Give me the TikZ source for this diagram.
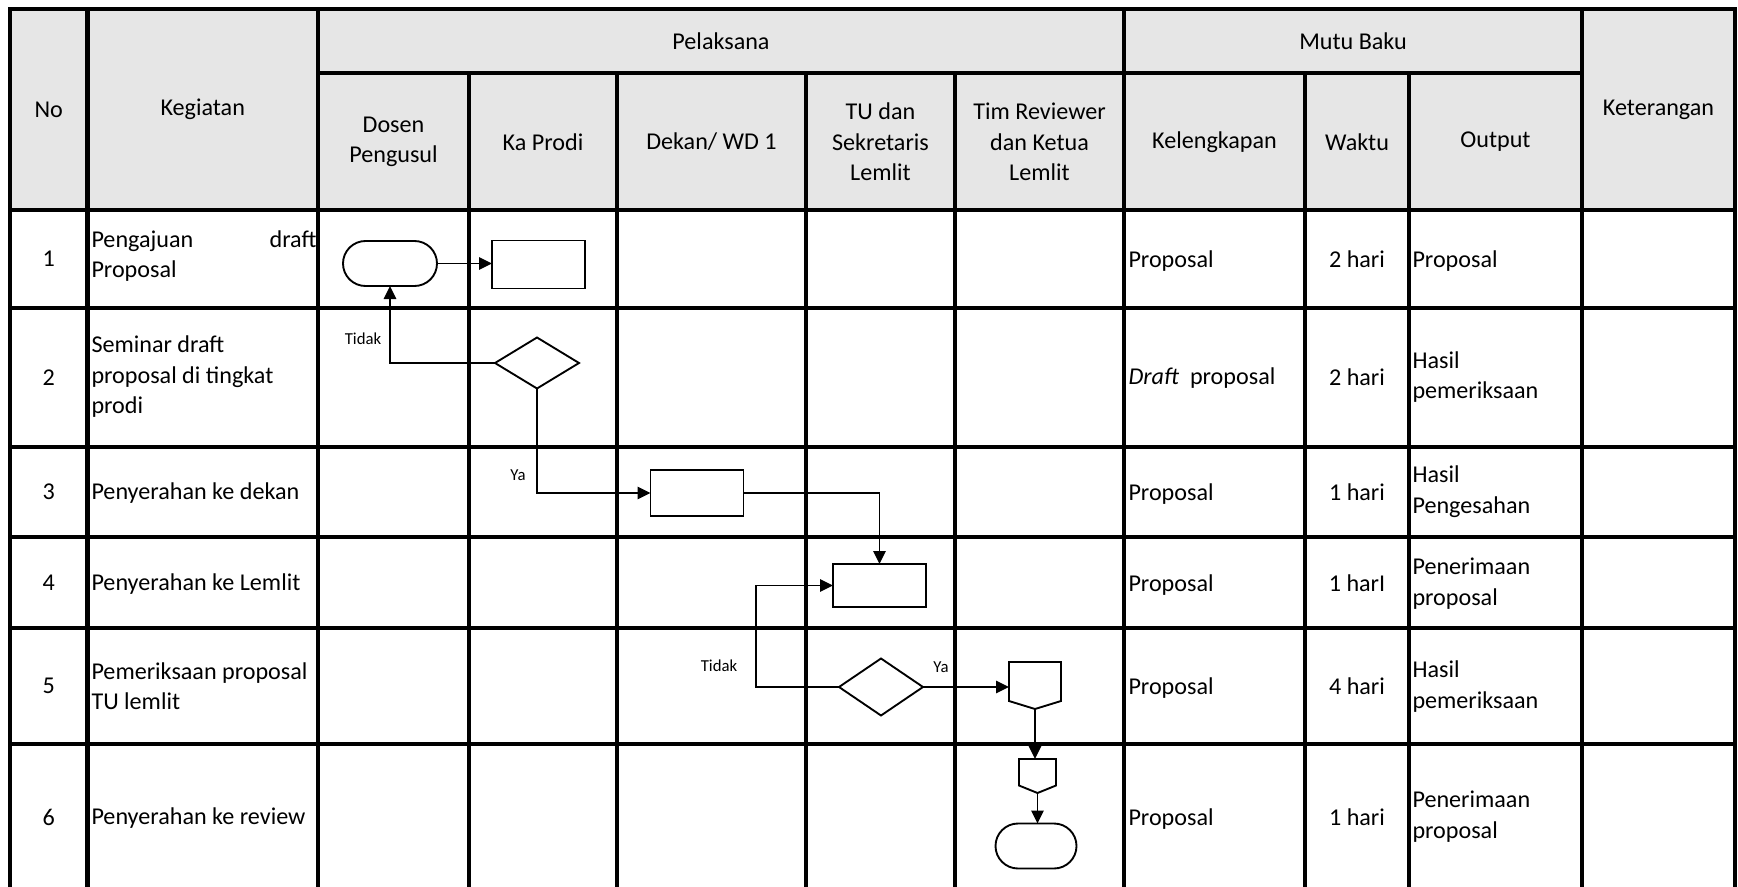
\documentclass[tikz,border=0pt]{standalone}
\usepackage{fontspec}
\setmainfont{Carlito}
\usetikzlibrary{shapes.geometric,shapes.misc,arrows.meta,calc}
\newdimen\pxu \pxu=0.4pt
\definecolor{hdrgray}{HTML}{E6E6E6}
\begin{document}
\begin{tikzpicture}[x=0.4pt,y=-0.4pt,
  grid/.style={line width=1.9pt},
  txt/.style={inner sep=0pt, font=\fontsize{9.65pt}{12.2pt}\selectfont, align=center},
  ltxt/.style={txt, anchor=west, align=left},
  lbl/.style={inner sep=0pt, font=\fontsize{6.7pt}{8pt}\selectfont},
  shp/.style={draw, line width=0.75pt, inner sep=0pt, outer sep=0pt},
  term/.style={shp, rounded rectangle},
  procbox/.style={shp, rectangle},
  decis/.style={shp, diamond},
  holder/.style={inner sep=0pt, outer sep=0pt, rectangle},
  arr/.style={line width=0.65pt, -{Triangle[length=5.2pt,width=5pt]}},
]
\path[use as bounding box, clip] (0,0) rectangle (1738,886);

% header background
\fill[hdrgray] (10,9) rectangle (1735,210);

% table grid
\draw[grid] (10,900) -- (10,9) -- (1735,9) -- (1735,900);
\foreach \x in {87.5,318,1124,1582} \draw[grid] (\x,9) -- (\x,900);
\foreach \x in {469,617,806,955,1305,1409} \draw[grid] (\x,73) -- (\x,900);
\draw[grid] (318,73) -- (1582,73);
\foreach \y in {210,308,447,537,628,744} \draw[grid] (10,\y) -- (1735,\y);

% header texts
\node[txt] (hNo) at (48.75,109.5) {No};
\node[txt] (hKeg) at (202.75,109.5) {Kegiatan};
\node[txt] (hPel) at (721,41.5) {Pelaksana};
\node[txt] (hMutu) at (1353,41.5) {Mutu Baku};
\node[txt] (hKet) at (1658.5,109.5) {Keterangan};
\node[txt] (hDos) at (393.5,142) {Dosen\\Pengusul};
\node[txt] (hKa) at (543,142) {Ka Prodi};
\node[txt] (hDek) at (711.5,142) {Dekan/ WD 1};
\node[txt] (hTU) at (880.5,142) {TU dan\\Sekretaris\\Lemlit};
\node[txt] (hTim) at (1039.5,142) {Tim Reviewer\\dan Ketua\\Lemlit};
\node[txt] (hKel) at (1214.5,142) {Kelengkapan};
\node[txt] (hWak) at (1357,142) {Waktu};
\node[txt] (hOut) at (1495.5,142) {Output};

% No column
\node[txt] (n1) at (48.75,259) {1};
\node[txt] (n2) at (48.75,377.5) {2};
\node[txt] (n3) at (48.75,492) {3};
\node[txt] (n4) at (48.75,582.5) {4};
\node[txt] (n5) at (48.75,686) {5};
\node[txt] (n6) at (48.75,817) {6};

% Kegiatan column
\node[ltxt, text width=225\pxu] (k1) at (91,256) {Pengajuan\hfill draft\\Proposal};
\node[ltxt] (k2) at (91,377) {Seminar draft\\proposal di tingkat\\prodi};
\node[ltxt] (k3) at (91,493) {Penyerahan ke dekan};
\node[ltxt] (k4) at (91,584) {Penyerahan ke Lemlit};
\node[ltxt] (k5) at (91,686) {Pemeriksaan proposal\\TU lemlit};
\node[ltxt] (k6) at (91,818) {Penyerahan ke review};

% Kelengkapan column
\node[ltxt] (l1) at (1128,261) {Proposal};
\node[ltxt] (l2) at (1128,378) {\textit{Draft}\ \ proposal};
\node[ltxt] (l3) at (1128,494) {Proposal};
\node[ltxt] (l4) at (1128,585) {Proposal};
\node[ltxt] (l5) at (1128,688) {Proposal};
\node[ltxt] (l6) at (1128,819) {Proposal};

% Waktu column
\node[txt] (w1) at (1357,259) {2 hari};
\node[txt] (w2) at (1357,377) {2 hari};
\node[txt] (w3) at (1357,492) {1 hari};
\node[txt] (w4) at (1357,583) {1 harI};
\node[txt] (w5) at (1357,686) {4 hari};
\node[txt] (w6) at (1357,817) {1 hari};

% Output column
\node[ltxt] (o1) at (1412,261) {Proposal};
\node[ltxt] (o2) at (1412,377) {Hasil\\pemeriksaan};
\node[ltxt] (o3) at (1412,491.5) {Hasil\\Pengesahan};
\node[ltxt] (o4) at (1412,583.5) {Penerimaan\\proposal};
\node[ltxt] (o5) at (1412,686.5) {Hasil\\pemeriksaan};
\node[ltxt] (o6) at (1412,816.5) {Penerimaan\\proposal};

% flowchart shapes
\node[term, minimum width=94\pxu, minimum height=45\pxu] (t1) at (390,263.5) {};
\node[procbox, minimum width=93\pxu, minimum height=48\pxu] (r1) at (538.5,264.5) {};
\node[decis, minimum width=84\pxu, minimum height=51\pxu] (d1) at (537,363) {};
\node[procbox, minimum width=93\pxu, minimum height=46\pxu] (r3) at (697,493) {};
\node[procbox, minimum width=93\pxu, minimum height=43\pxu] (r4) at (879.5,585.5) {};
\node[decis, minimum width=84\pxu, minimum height=57\pxu] (d5) at (881,687) {};
\node[holder, minimum width=52\pxu, minimum height=47\pxu] (p5) at (1035,685.5) {};
\draw[line width=0.75pt] (p5.north west) -- (p5.north east) -- ([yshift=8\pxu]p5.south east)
  -- (p5.south) -- ([yshift=8\pxu]p5.south west) -- cycle;
\node[holder, minimum width=37\pxu, minimum height=34\pxu] (p6) at (1037.5,776) {};
\draw[line width=0.75pt] (p6.north west) -- (p6.north east) -- ([yshift=7.5\pxu]p6.south east)
  -- (p6.south) -- ([yshift=7.5\pxu]p6.south west) -- cycle;
\node[term, minimum width=81\pxu, minimum height=45\pxu] (t6) at (1036,846) {};

% connectors
\draw[arr] (t1.east) -- (t1.east -| r1.west);
\draw[arr] (d1.west) -| (t1.south);
\draw[arr] (d1.south) |- (r3.west);
\draw[arr] (r3.east) -| (r4.north);
\draw[arr] (d5.west) -- ++(-83,0) |- (r4.west);
\draw[arr] (d5.east) -- (d5.east -| p5.west);
\draw[arr] (p5.south) -- (p5.south |- p6.north);
\draw[arr] (p6.south) -- (p6.south |- t6.north);

% connector labels
\node[lbl] (tidak1) at (363,339) {Tidak};
\node[lbl] (ya1) at (518,475) {Ya};
\node[lbl] (tidak2) at (719,666) {Tidak};
\node[lbl] (ya2) at (941,667) {Ya};
\end{tikzpicture}
\end{document}
